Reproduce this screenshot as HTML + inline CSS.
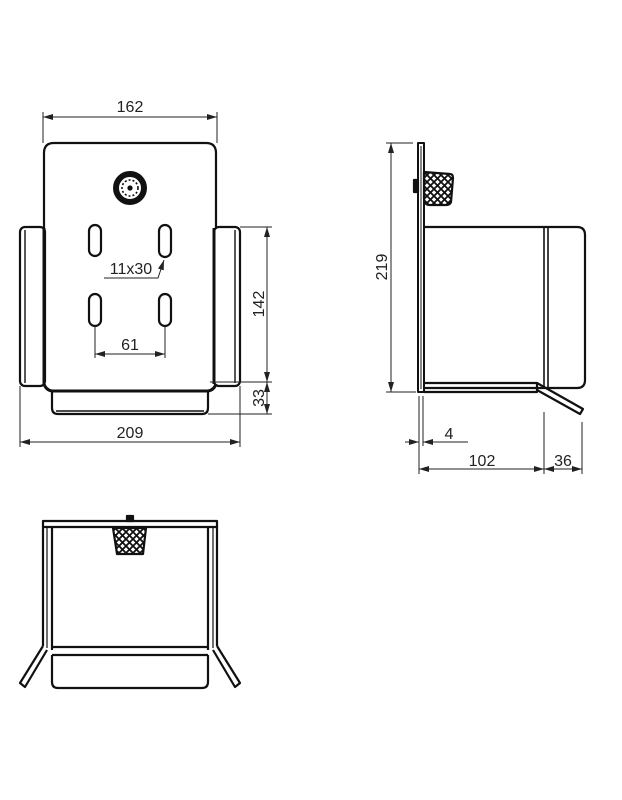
<!DOCTYPE html>
<html><head><meta charset="utf-8"><style>
html,body{margin:0;padding:0;background:#fff;}
svg{display:block;}
text{font-family:"Liberation Sans",sans-serif;font-size:16px;fill:#222;}
</style></head><body>
<svg width="622" height="800" viewBox="0 0 622 800" xmlns="http://www.w3.org/2000/svg">
<defs>
<marker id="a" viewBox="0 0 10 6" refX="10" refY="3" markerWidth="10" markerHeight="6" orient="auto-start-reverse"><path d="M0,0 L10,3 L0,6 z" fill="#222"/></marker>
<pattern id="mesh" width="7" height="7" patternUnits="userSpaceOnUse"><rect width="7" height="7" fill="#fff"/><path d="M0,0 L7,7 M7,0 L0,7" stroke="#111" stroke-width="1.8"/></pattern>
</defs>
<g fill="none" stroke="#111" stroke-width="2.2" stroke-linejoin="round">
<!-- FRONT VIEW -->
<path d="M44,228 L44,153 Q44,143 54,143 L206,143 Q216,143 216,153 L216,228"/>
<rect x="20" y="227" width="25" height="159" rx="5"/>
<line x1="25" y1="230" x2="25" y2="383" stroke-width="1.4"/>
<rect x="214" y="227" width="26" height="159" rx="5"/>
<line x1="235" y1="230" x2="235" y2="383" stroke-width="1.4"/>
<line x1="44" y1="228" x2="44" y2="384" stroke-width="3"/>
<line x1="214" y1="228" x2="214" y2="384" stroke-width="3"/>
<path d="M44,384 Q46,390 52,391 L208,391 Q214,390 216,384" stroke-width="3"/>
<path d="M52,391 L52,408 Q52,414 58,414 L202,414 Q208,414 208,408 L208,391"/>
<line x1="56" y1="411" x2="204" y2="411" stroke-width="1.4"/>
<circle cx="130" cy="188" r="14" stroke-width="6"/>
<circle cx="130" cy="188" r="8" stroke-width="1.6" stroke-dasharray="2 2"/>
<circle cx="130" cy="188" r="1.5" fill="#111"/>
<rect x="89" y="225" width="12" height="31" rx="6"/>
<rect x="159" y="225" width="12" height="32" rx="6"/>
<rect x="89" y="294" width="12" height="32" rx="6"/>
<rect x="159" y="294" width="12" height="32" rx="6"/>
<!-- SIDE VIEW -->
<rect x="418" y="143" width="6" height="249" stroke-width="2"/>
<line x1="421" y1="146" x2="421" y2="389" stroke-width="1"/>
<path d="M424,172 L450,174 Q453,174 453,178 L451,202 Q450,205 446,205 L430,205 Q424,205 424,198 Z" fill="url(#mesh)"/>
<rect x="414" y="180" width="4" height="12" fill="#111"/>
<path d="M424,227 L577,227 Q585,227 585,235 L585,380 Q585,388 577,388 L424,388"/>
<line x1="544" y1="228" x2="544" y2="388" stroke-width="1.6"/>
<line x1="548" y1="228" x2="548" y2="388" stroke-width="1.6"/>
<path d="M424,383 L537,383 L537,392 L424,392"/>
<path d="M537,383 L583,409 L580,414 L537,390"/>
<!-- BOTTOM VIEW -->
<rect x="43" y="521" width="174" height="6"/>
<line x1="43" y1="527" x2="43" y2="646"/>
<line x1="52" y1="527" x2="52" y2="650"/>
<line x1="47" y1="527" x2="47" y2="648" stroke-width="1.2"/>
<line x1="217" y1="527" x2="217" y2="646"/>
<line x1="208" y1="527" x2="208" y2="650"/>
<line x1="213" y1="527" x2="213" y2="648" stroke-width="1.2"/>
<path d="M43,646 L20,683 L25,687 L47,650"/>
<path d="M217,646 L240,683 L235,687 L213,650"/>
<path d="M113,528 L146,528 L143,554 L117,554 Z" fill="url(#mesh)"/>
<rect x="127" y="516" width="6" height="5" fill="#111"/>
<line x1="52" y1="647" x2="208" y2="647"/>
<line x1="52" y1="655" x2="208" y2="655"/>
<path d="M52,655 L52,682 Q52,688 58,688 L202,688 Q208,688 208,682 L208,655"/>
</g>
<g stroke="#222" stroke-width="1" fill="none">
<line x1="43" y1="112" x2="43" y2="143"/><line x1="217" y1="112" x2="217" y2="143"/>
<line x1="43" y1="117" x2="217" y2="117" marker-start="url(#a)" marker-end="url(#a)"/>
<line x1="240" y1="227" x2="272" y2="227"/><line x1="210" y1="382" x2="272" y2="382"/><line x1="208" y1="414" x2="272" y2="414"/>
<line x1="267" y1="227" x2="267" y2="382" marker-start="url(#a)" marker-end="url(#a)"/>
<line x1="267" y1="382" x2="267" y2="414" marker-start="url(#a)" marker-end="url(#a)"/>
<line x1="20" y1="386" x2="20" y2="447"/><line x1="240" y1="386" x2="240" y2="447"/>
<line x1="20" y1="442" x2="240" y2="442" marker-start="url(#a)" marker-end="url(#a)"/>
<line x1="95" y1="326" x2="95" y2="358"/><line x1="165" y1="326" x2="165" y2="358"/>
<line x1="95" y1="354" x2="165" y2="354" marker-start="url(#a)" marker-end="url(#a)"/>
<polyline points="104,278 158,278 164,260" marker-end="url(#a)"/>
<line x1="386" y1="143" x2="413" y2="143"/><line x1="386" y1="392" x2="416" y2="392"/>
<line x1="391" y1="143" x2="391" y2="392" marker-start="url(#a)" marker-end="url(#a)"/>
<line x1="419" y1="396" x2="419" y2="474"/><line x1="423" y1="396" x2="423" y2="446"/>
<line x1="405" y1="442" x2="419" y2="442" marker-end="url(#a)"/>
<line x1="423" y1="442" x2="468" y2="442" marker-start="url(#a)"/>
<line x1="544" y1="412" x2="544" y2="474"/><line x1="582" y1="422" x2="582" y2="474"/>
<line x1="419" y1="469" x2="544" y2="469" marker-start="url(#a)" marker-end="url(#a)"/>
<line x1="544" y1="469" x2="582" y2="469" marker-start="url(#a)" marker-end="url(#a)"/>
</g>
<text x="130" y="112" text-anchor="middle">162</text>
<text x="130" y="438" text-anchor="middle">209</text>
<text x="130" y="350" text-anchor="middle">61</text>
<text x="131" y="274" text-anchor="middle">11x30</text>
<text transform="translate(264,304) rotate(-90)" text-anchor="middle">142</text>
<text transform="translate(264,398) rotate(-90)" text-anchor="middle">33</text>
<text transform="translate(387,267) rotate(-90)" text-anchor="middle">219</text>
<text x="449" y="439" text-anchor="middle">4</text>
<text x="482" y="466" text-anchor="middle">102</text>
<text x="563" y="466" text-anchor="middle">36</text>
</svg>
</body></html>
